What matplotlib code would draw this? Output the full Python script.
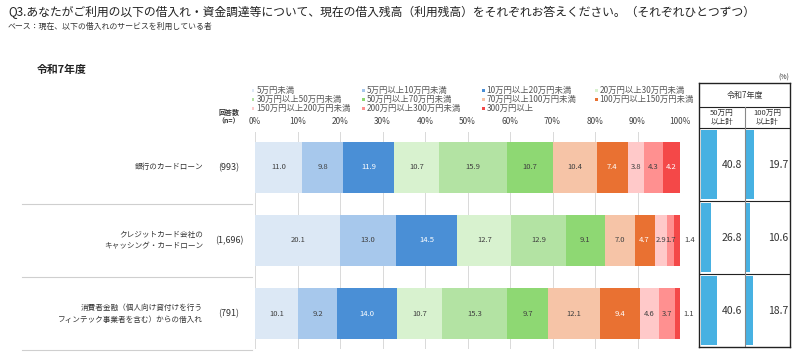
import matplotlib.pyplot as plt
from matplotlib.patches import Rectangle
from matplotlib.transforms import blended_transform_factory

plt.rcParams['font.family'] = ['Noto Sans CJK JP', 'DejaVu Sans']

# データ
categories = ['5万円未満', '5万円以上10万円未満', '10万円以上20万円未満', '20万円以上30万円未満',
              '30万円以上50万円未満', '50万円以上70万円未満', '70万円以上100万円未満', '100万円以上150万円未満',
              '150万円以上200万円未満', '200万円以上300万円未満', '300万円以上']
row_labels = ['銀行のカードローン',
              'クレジットカード会社の\nキャッシング・カードローン',
              '消費者金融（個人向け貸付けを行う\nフィンテック事業者を含む）からの借入れ']
n_values = ['993', '1,696', '791']
vals_bank = [11.0, 9.8, 11.9, 10.7, 15.9, 10.7, 10.4, 7.4, 3.8, 4.3, 4.2]
vals_credit = [20.1, 13.0, 14.5, 12.7, 12.9, 9.1, 7.0, 4.7, 2.9, 1.7, 1.4]
vals_consumer = [10.1, 9.2, 14.0, 10.7, 15.3, 9.7, 12.1, 9.4, 4.6, 3.7, 1.1]
total_50 = [40.8, 26.8, 40.6]
total_100 = [19.7, 10.6, 18.7]

colors = ['#DCE8F5', '#A7C8EC', '#4A8FD6', '#D8F2CF', '#B3E3A3', '#8ED873',
          '#F6C4A7', '#E97132', '#FFC9C9', '#FF9090', '#F44848']
white_text = {2, 7, 10}

W, H = 800, 357
def fx(px):
    return px / W
def fy(py):
    return 1 - py / H

fig = plt.figure(figsize=(8, 3.57), dpi=100)

# タイトル
fig.text(fx(8), fy(12), 'Q3.あなたがご利用の以下の借入れ・資金調達等について、現在の借入残高（利用残高）をそれぞれお答えください。（それぞれひとつずつ）',
         fontsize=8.5, va='center', color='#222222')
fig.text(fx(8), fy(26), 'ベース：現在、以下の借入れのサービスを利用している者',
         fontsize=5.7, va='center', color='#333333')
fig.text(fx(37), fy(70), '令和7年度', fontsize=7.8, fontweight='bold', va='center', color='#222222')

# 凡例（行優先で4列）
legend_x = [253, 363, 483, 596]
legend_y = [90, 99, 108]
for i, name in enumerate(categories):
    r, c = divmod(i, 4)
    fig.add_artist(Rectangle((fx(legend_x[c] - 1.5), fy(legend_y[r] + 1.5)), 3 / W, 3 / H,
                             transform=fig.transFigure, color=colors[i], lw=0))
    fig.text(fx(legend_x[c] + 3.5), fy(legend_y[r]), name, fontsize=6, va='center', color='#555555')

fig.text(fx(229), fy(117), '回答数\n（n=）', fontsize=5, ha='center', va='center',
         color='#333333', linespacing=1.2, fontweight='bold')

# 帯グラフ
ax = fig.add_axes([fx(255), fy(349), 425 / W, (349 - 132) / H])
values_by_row = [vals_bank, vals_credit, vals_consumer]
rows = list(range(len(values_by_row)))

lefts = [0.0] * len(rows)
for j, cat in enumerate(categories):
    seg = [row[j] for row in values_by_row]
    ax.barh(rows, seg, left=lefts, height=0.7, color=colors[j], lw=0)
    for i, v in enumerate(seg):
        if j == len(categories) - 1 and v < 1.5:
            ax.text(lefts[i] + v + 1.0, i, f'{v:.1f}', ha='left', va='center',
                    fontsize=5.5, color='#404040')
        else:
            ax.text(lefts[i] + v / 2, i, f'{v:.1f}', ha='center', va='center', fontsize=5.5,
                    color='white' if j in white_text else '#404040')
    lefts = [l + v for l, v in zip(lefts, seg)]

ax.set_xlim(0, 100)
ax.set_ylim(2.48, -0.48)
ax.set_xticks(range(0, 101, 10))
ax.set_xticklabels([f'{t}%' for t in range(0, 101, 10)])
ax.xaxis.tick_top()
ax.tick_params(axis='x', length=0, pad=4, labelsize=6, labelcolor='#444444')
ax.set_yticks([])
ax.grid(axis='x', color='#d9d9d9', lw=0.7)
ax.set_axisbelow(True)
for s in ax.spines.values():
    s.set_visible(False)

trans = blended_transform_factory(fig.transFigure, ax.transData)
for i, (label, n) in enumerate(zip(row_labels, n_values)):
    ax.text(fx(203), i, label, transform=trans, ha='right', va='center',
            fontsize=5.5, color='#333333', linespacing=1.6)
    ax.text(fx(229), i, f'({n})', transform=trans, ha='center', va='center',
            fontsize=6.5, color='#333333')
    ax.plot([fx(22), fx(252)], [i + 0.5] * 2, transform=trans, color='#cfcfcf',
            lw=0.8, clip_on=False)

# 右側の合計表
C = 116
rax = fig.add_axes([fx(699), fy(347), (790 - 699) / W, (347 - 83) / H])
rax.set_xlim(0, 2 * C)
rax.set_ylim(3, -0.62)
rax.set_xticks([])
rax.set_yticks([])
for s in rax.spines.values():
    s.set_color('#222222')
    s.set_linewidth(1)

centers = [r + 0.5 for r in rows]
rax.barh(centers, total_50, left=5, height=0.95, color='#47B1E2', lw=0)
rax.barh(centers, total_100, left=C + 4, height=0.95, color='#47B1E2', lw=0)
for i in rows:
    rax.text(C - 5, centers[i], f'{total_50[i]:.1f}', ha='right', va='center',
             fontsize=7.5, color='#333333')
    rax.text(2 * C - 5, centers[i], f'{total_100[i]:.1f}', ha='right', va='center',
             fontsize=7.5, color='#333333')

for yline in [-0.29, 0, 1, 2]:
    rax.axhline(yline, color='#222222', lw=0.8)
rax.plot([C, C], [-0.29, 3], color='#888888', lw=0.8)

rax.text(C, -0.455, '令和7年度', ha='center', va='center', fontsize=5.8, color='#333333')
rax.text(C / 2, -0.145, '50万円\n以上計', ha='center', va='center', fontsize=5.5,
         color='#333333', linespacing=1.0)
rax.text(1.5 * C, -0.145, '100万円\n以上計', ha='center', va='center', fontsize=5.5,
         color='#333333', linespacing=1.0)
fig.text(fx(784), fy(78), '(%)', fontsize=5, ha='center', va='center', color='#333333')

fig.savefig('out.png', dpi=100)
